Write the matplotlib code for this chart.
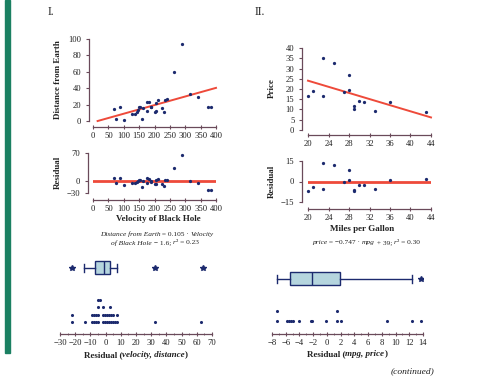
import matplotlib
matplotlib.use("Agg")
import matplotlib.pyplot as plt
from matplotlib.patches import Rectangle
from matplotlib.ticker import MultipleLocator
import numpy as np

plt.rcParams['font.family'] = ['Liberation Serif', 'DejaVu Serif']

# ---------------- data ----------------
# Panel I: black holes
velocity = [67, 74, 88, 102, 128, 136, 142, 146, 150, 153, 160, 163, 174, 182, 176, 187,
            190, 203, 205, 206, 211, 225, 230, 235, 241, 262, 289, 316, 340, 375, 383]
distance = [14.2, 2, 16.7, 1.2, 8, 8, 11.4, 14, 17, 17.5, 2, 16, 23.6, 23.6, 12.6, 16.7,
            17.5, 11.4, 12.6, 21.5, 25.6, 15.4, 10.6, 25.6, 26.8, 59.3, 93.9, 32.5, 29.7, 16.7, 17.5]
resid_I = [8.5, -5.5, 8.5, -9, -4, -4.5, -2, 0.3, 2.9, 3.0, -15, 0.5, 7, 6, -4.3, -1.3,
           -0.9, -8.3, -7.3, 1.5, 4, -6.6, -12, 2.5, 3.1, 33, 65, 0.5, -4.5, -23, -23]
slope_I, icpt_I = 0.105, -1.6
fit_I_range = [15, 400]
box_I = dict(whislo=-14.3, q1=-6.7, med=-1.3, q3=2.6, whishi=7.6, fliers=[-22, 32.5, 64])
dots_I_rows = [
    [-22, -13.3, -8.9, -7.6, -6.3, -5.0, -1.7, -0.4, 0.9, 2.2, 3.5, 4.8, 6.1, 7.8, 32.6, 63],
    [-22, -8.9, -7.6, -6.3, -5.0, -1.7, -0.4, 0.9, 2.2, 3.5, 4.8, 7.8],
    [-5.0, -1.7, 3.0],
    [-5.0, -3.5],
]

# Panel II: cars
mpg = [20, 21, 22.9, 22.9, 25, 27, 28, 28, 29, 29, 30, 31, 33, 36, 43]
price = [16.7, 19.1, 35.3, 16.5, 32.7, 18.6, 26.9, 19.4, 11.7, 10.4, 14.3, 13.8, 9.4, 13.8, 8.7]
resid_II = [-7.1, -4.0, 13.3, -5.2, 12.1, -0.2, 8.6, 1.2, -6.0, -7.1, -2.4, -2.4, -5.2, 1.2, 1.9]
slope_II, icpt_II = -0.747, 39
fit_II_range = [20, 44]
box_II = dict(whislo=-7.3, q1=-5.4, med=-2.2, q3=1.9, whishi=12.4, fliers=[13.7])
dots_II_rows = [
    [-7.2, -5.8, -5.5, -5.2, -4.9, -4.1, -2.3, -2.15, -0.1, 1.4, 2.1, 8.8, 12.4, 13.7],
    [-7.2, 1.4],
]

# ---------------- styles ----------------
W, H = 482, 383
SP = '#6a4a5a'
TXT = '#222222'
NAVY = '#1c2a6e'
RED = '#ee4a3a'
BOXF = '#b5d5de'
GREEN = '#1b8062'
LBL = 6.5

fig = plt.figure(figsize=(W / 100, H / 100), dpi=100)


def R(l, t, r, b):
    return [l / W, 1 - b / H, (r - l) / W, (b - t) / H]


def ftext(x, y, s, **kw):
    return fig.text(x / W, 1 - y / H, s, **kw)


def style(ax, boff, loff, left=True):
    for s in ['top', 'right']:
        ax.spines[s].set_visible(False)
    ax.spines['bottom'].set_position(('outward', boff * 0.72))
    ax.spines['bottom'].set_color(SP)
    ax.spines['bottom'].set_linewidth(0.9)
    if left:
        ax.spines['left'].set_position(('outward', loff * 0.72))
        ax.spines['left'].set_color(SP)
        ax.spines['left'].set_linewidth(0.9)
    else:
        ax.spines['left'].set_visible(False)
        ax.set_yticks([])
    ax.tick_params(axis='x', which='major', direction='inout', length=3.5, width=0.8,
                   color=SP, labelsize=6.2, pad=2.0, labelcolor=TXT)
    ax.tick_params(axis='x', which='minor', direction='inout', length=2, width=0.6, color=SP)
    ax.tick_params(axis='y', direction='out', length=2.5, width=0.8, color=SP,
                   labelsize=6.2, pad=3.0, labelcolor=TXT)
    ax.patch.set_alpha(0)


def mixed(xc, y, parts, size, weight='normal'):
    renderer = fig.canvas.get_renderer()
    objs = []
    widths = []
    for s, st in parts:
        t = ftext(0, y, s, fontsize=size, style=st, fontweight=weight, ha='left',
                  va='center', color=TXT)
        objs.append(t)
        widths.append(t.get_window_extent(renderer).width)
    x = xc - sum(widths) / 2
    for t, w in zip(objs, widths):
        t.set_x(x / W)
        x += w


def minus_fmt(v):
    return ('\u2212' if v < 0 else '') + ('%g' % abs(v))


# green side bar
fig.patches.append(Rectangle((5 / W, 1 - 353 / H), 4.5 / W, 353 / H,
                             transform=fig.transFigure, color=GREEN, zorder=0))

ftext(48, 12, 'I.', fontsize=8.5, ha='left', va='center', color=TXT)
ftext(255, 12, 'II.', fontsize=8.5, ha='left', va='center', color=TXT)

# ---- Panel I scatter ----
ax = fig.add_axes(R(93, 39, 216, 121))
ax.scatter(velocity, distance, s=5.5, color=NAVY, clip_on=False, zorder=3, linewidths=0)
fx = np.array(fit_I_range, dtype=float)
ax.plot(fx, slope_I * fx + icpt_I, color=RED, lw=1.4, clip_on=False, zorder=2)
ax.set_xlim(0, 400)
ax.set_ylim(0, 100)
ax.set_xticks(np.arange(0, 401, 50))
ax.set_yticks(np.arange(0, 101, 20))
style(ax, 6, 4)
ftext(58, 80, 'Distance from Earth', rotation=90, fontsize=LBL, fontweight='bold',
      ha='center', va='center', color=TXT)

# ---- Panel I residual ----
ax = fig.add_axes(R(93, 153, 216, 193))
ax.axhline(0, color=RED, lw=2.0, zorder=2)
ax.scatter(velocity, resid_I, s=5.5, color=NAVY, clip_on=False, zorder=3, linewidths=0)
ax.set_xlim(0, 400)
ax.set_ylim(-30, 70)
ax.set_xticks(np.arange(0, 401, 50))
ax.set_yticks([-30, 0, 70])
ax.set_yticklabels([minus_fmt(v) for v in [-30, 0, 70]])
style(ax, 7, 5)
ftext(58, 172, 'Residual', rotation=90, fontsize=LBL, fontweight='bold',
      ha='center', va='center', color=TXT)
ftext(158, 219, 'Velocity of Black Hole', fontsize=LBL, fontweight='bold',
      ha='center', va='center', color=TXT)

mixed(157, 234, [('Distance from Earth', 'italic'), (' = 0.105 \u00b7 ', 'normal'),
                 ('Velocity', 'italic')], 5.3)
mixed(155, 243, [('of Black Hole', 'italic'), (' \u2212 1.6; ', 'normal'), ('r', 'italic'),
                 ('\u00b2 = 0.23', 'normal')], 5.3)


# ---- box + dot plot helper ----
def box_dot(rect, xlim, major, minor, ylim, box, box_lvl, bw, rows, label_parts, lx, ly):
    ax = fig.add_axes(R(*rect))
    st = dict(box)
    st['fliers'] = np.array(box['fliers'])
    kw = dict(positions=[box_lvl], widths=bw, patch_artist=True, showfliers=True,
              boxprops=dict(facecolor=BOXF, edgecolor=NAVY, linewidth=1.0),
              medianprops=dict(color=NAVY, linewidth=1.0),
              whiskerprops=dict(color=NAVY, linewidth=1.0),
              capprops=dict(color=NAVY, linewidth=1.0),
              flierprops=dict(marker='*', markerfacecolor=NAVY, markeredgecolor=NAVY,
                              markersize=4.2, linestyle='none'),
              capwidths=bw * 0.55, manage_ticks=False)
    try:
        ax.bxp([st], orientation='horizontal', **kw)
    except TypeError:
        ax.bxp([st], vert=False, **kw)
    for i, row in enumerate(rows):
        ax.scatter(row, [i + 1] * len(row), s=5, color=NAVY, clip_on=False,
                   zorder=3, linewidths=0)
    ax.set_xlim(*xlim)
    ax.set_ylim(*ylim)
    ticks = np.arange(xlim[0], xlim[1] + 0.001, major)
    ax.set_xticks(ticks)
    ax.set_xticklabels([minus_fmt(v) for v in ticks])
    ax.xaxis.set_minor_locator(MultipleLocator(minor))
    style(ax, 0, 0, left=False)
    mixed(lx, ly, label_parts, LBL, weight='bold')
    return ax


box_dot((60, 250, 212, 334), (-30, 70), 10, 5, (-0.64, 10.82), box_I, 8.37, 1.77,
        dots_I_rows, [('Residual (', 'normal'), ('velocity, distance', 'italic'),
                      (')', 'normal')], 136, 355)

# ---- Panel II scatter ----
ax = fig.add_axes(R(308, 48, 431, 130))
ax.scatter(mpg, price, s=5.5, color=NAVY, clip_on=False, zorder=3, linewidths=0)
fx = np.array(fit_II_range, dtype=float)
ax.plot(fx, slope_II * fx + icpt_II, color=RED, lw=1.4, clip_on=False, zorder=2)
ax.set_xlim(20, 44)
ax.set_ylim(0, 40)
ax.set_xticks(np.arange(20, 45, 4))
ax.set_yticks(np.arange(0, 41, 5))
style(ax, 5, 6)
ftext(272, 88, 'Price', rotation=90, fontsize=LBL, fontweight='bold',
      ha='center', va='center', color=TXT)

# ---- Panel II residual ----
ax = fig.add_axes(R(308, 161, 431, 202))
ax.axhline(0, color=RED, lw=2.0, zorder=2)
ax.scatter(mpg, resid_II, s=5.5, color=NAVY, clip_on=False, zorder=3, linewidths=0)
ax.set_xlim(20, 44)
ax.set_ylim(-15, 15)
ax.set_xticks(np.arange(20, 45, 4))
ax.set_yticks([-15, 0, 15])
ax.set_yticklabels([minus_fmt(v) for v in [-15, 0, 15]])
style(ax, 7, 6)
ftext(272, 181, 'Residual', rotation=90, fontsize=LBL, fontweight='bold',
      ha='center', va='center', color=TXT)
ftext(362, 229, 'Miles per Gallon', fontsize=LBL, fontweight='bold',
      ha='center', va='center', color=TXT)
mixed(366, 243, [('price', 'italic'), (' = \u22120.747 \u00b7 ', 'normal'), ('mpg', 'italic'),
                 (' + 39; ', 'normal'), ('r', 'italic'), ('\u00b2 = 0.30', 'normal')], 5.3)

# ---- Panel II box + dot plot ----
box_dot((272, 250, 423, 334), (-8, 14), 2, 1, (-0.262, 7.89), box_II, 5.08, 1.26,
        dots_II_rows, [('Residual (', 'normal'), ('mpg, price', 'italic'), (')', 'normal')],
        347, 354)

ftext(413, 371, '(continued)', fontsize=6.8, style='italic', ha='center', va='center',
      color=TXT)

fig.savefig('out.png', dpi=100)
